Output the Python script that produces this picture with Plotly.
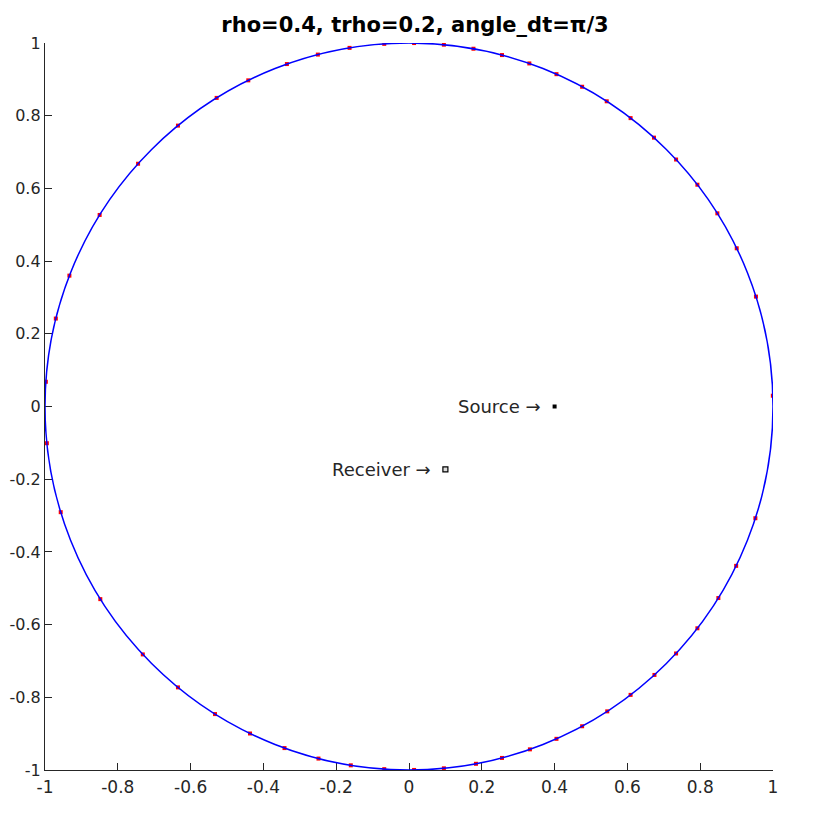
import numpy as np
import plotly.graph_objects as go

TITLE = 'rho=0.4, trho=0.2, angle_dt=π/3'

# boundary circle (unit radius)
RADIUS = 1.0

# red points on the boundary, angle in degrees
point_angles = [
    1.7, 17.6, 25.8, 32.1, 37.6, 42.8, 47.7, 52.5, 57.1, 61.6, 66.1, 70.7,
    75.2, 79.8, 84.5, 89.2, 93.9, 99.4, 104.5, 109.6, 116.2, 121.9, 129.4,
    138.1, 148.2, 158.9, 166.0, 176.1, 185.8, 196.9, 212.0, 223.0, 230.6,
    237.8, 244.1, 250.0, 255.6, 260.8, 266.1, 270.8, 275.5, 280.6, 284.8,
    289.4, 293.9, 298.4, 303.0, 307.5, 312.4, 317.2, 322.4, 328.2, 334.0,
    342.1,
]

source_xy = (0.4, 0.0)
receiver_xy = (0.1, -0.173)

tick_vals = [-1, -0.8, -0.6, -0.4, -0.2, 0, 0.2, 0.4, 0.6, 0.8, 1]
tick_text = ['-1', '-0.8', '-0.6', '-0.4', '-0.2', '0', '0.2', '0.4', '0.6', '0.8', '1']

ang = np.radians(point_angles)
px = RADIUS * np.cos(ang)
py = RADIUS * np.sin(ang)

fig = go.Figure()

# blue boundary
fig.add_shape(type='circle', xref='x', yref='y',
              x0=-RADIUS, y0=-RADIUS, x1=RADIUS, y1=RADIUS,
              line=dict(color='#0000ff', width=1.5), layer='above')

fig.add_trace(go.Scatter(
    x=px, y=py, mode='markers',
    marker=dict(symbol='square', size=4, color='#ff0000', line=dict(width=0)),
    showlegend=False, hoverinfo='skip'
))

# source (filled) and receiver (open)
fig.add_trace(go.Scatter(
    x=[source_xy[0]], y=[source_xy[1]], mode='markers',
    marker=dict(symbol='square', size=4, color='black'),
    showlegend=False
))
fig.add_trace(go.Scatter(
    x=[receiver_xy[0]], y=[receiver_xy[1]], mode='markers',
    marker=dict(symbol='square', size=5, color='#dddddd',
                line=dict(color='black', width=1.2)),
    showlegend=False
))

for (xx, yy), label in [(source_xy, 'Source →'), (receiver_xy, 'Receiver →')]:
    fig.add_annotation(x=xx, y=yy, text=label, showarrow=False,
                       xanchor='right', xshift=-12,
                       font=dict(family='DejaVu Sans', size=18, color='#262626'))

axis_style = dict(
    range=[-1, 1], tickvals=tick_vals, ticktext=tick_text,
    ticks='inside', ticklen=7, tickwidth=1, tickcolor='#262626',
    showline=True, linecolor='#262626', linewidth=1.3,
    showgrid=False, zeroline=False, mirror=False, automargin=False,
    tickfont=dict(family='DejaVu Sans', size=17, color='#262626'),
)

# page body adds 8px, margins are set so the axes land where the original has them
fig.update_layout(
    title=dict(text='<b>' + TITLE + '</b>', x=0.5, xanchor='center',
               y=0.979, yanchor='middle',
               font=dict(family='DejaVu Sans', size=21, color='black')),
    width=814, height=813,
    margin=dict(l=37, r=49, t=35, b=51),
    paper_bgcolor='white', plot_bgcolor='white',
    xaxis=axis_style, yaxis=axis_style,
)
fig.update_xaxes(ticklabelstandoff=1)
# y labels need to stay inside the page on the left
fig.update_yaxes(ticklabelstandoff=0,
                 tickfont=dict(family='DejaVu Sans', size=16, color='#262626'))

fig.write_html('out.html')
